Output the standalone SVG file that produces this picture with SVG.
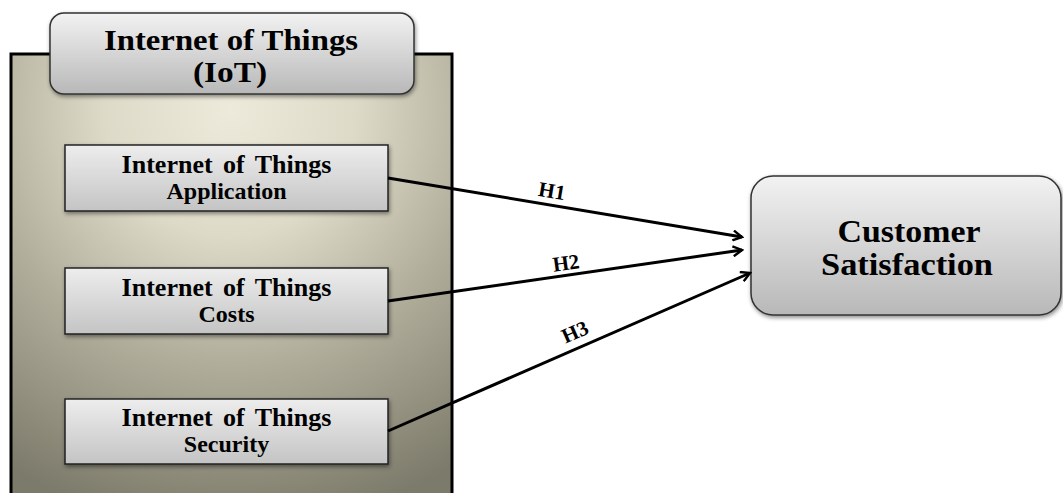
<svg xmlns="http://www.w3.org/2000/svg" width="1063" height="493" viewBox="0 0 1063 493">
<defs>
<radialGradient id="bg" cx="230" cy="110" r="420" gradientUnits="userSpaceOnUse">
<stop offset="0" stop-color="#eeeadb"/>
<stop offset="0.3" stop-color="#dedac8"/>
<stop offset="0.6" stop-color="#b2ae9c"/>
<stop offset="1" stop-color="#7c7a6a"/>
</radialGradient>
<linearGradient id="gb" x1="0" y1="0" x2="0" y2="1">
<stop offset="0" stop-color="#ededed"/>
<stop offset="1" stop-color="#c4c4c4"/>
</linearGradient>
<linearGradient id="gt" x1="0" y1="0" x2="0" y2="1">
<stop offset="0" stop-color="#f2f2f2"/>
<stop offset="1" stop-color="#b8b8b8"/>
</linearGradient>
<filter id="sh" x="-10%" y="-10%" width="120%" height="130%">
<feDropShadow dx="1" dy="2" stdDeviation="2" flood-color="#000" flood-opacity="0.45"/>
</filter>
<marker id="ah" viewBox="0 0 12 12" refX="10" refY="6" markerWidth="12" markerHeight="12" markerUnits="userSpaceOnUse" orient="auto">
<path d="M1,1 L10,6 L1,11" fill="none" stroke="#000" stroke-width="2.4"/>
</marker>
<style>
.t{font-family:"Liberation Serif","Times New Roman",serif;font-weight:bold;fill:#000;text-anchor:middle}
.box{fill:url(#gb);stroke:#222;stroke-width:1.5}
.rbox{fill:url(#gt);stroke:#333;stroke-width:1.5}
.c{stroke:#000;stroke-width:3;fill:none;marker-end:url(#ah)}
</style>
</defs>
<rect width="1063" height="493" fill="#fff"/>
<g id="container">
<rect x="11" y="54" width="441" height="460" fill="url(#bg)" stroke="#000" stroke-width="3"/>
</g>
<g id="title">
<rect class="rbox" x="50" y="13" width="364" height="81" rx="14" filter="url(#sh)"/>
<text class="t" x="231" y="50" font-size="29" textLength="254" lengthAdjust="spacingAndGlyphs">Internet of Things</text>
<text class="t" x="230" y="82" font-size="29" textLength="74" lengthAdjust="spacingAndGlyphs">(IoT)</text>
</g>
<g id="n1">
<rect class="box" x="65" y="145" width="323" height="66" filter="url(#sh)"/>
<text class="t" x="226.5" y="173" font-size="26" word-spacing="4">Internet of Things</text>
<text class="t" x="226.5" y="199" font-size="24">Application</text>
</g>
<g id="n2">
<rect class="box" x="65" y="268" width="323" height="66" filter="url(#sh)"/>
<text class="t" x="226.5" y="296" font-size="26" word-spacing="4">Internet of Things</text>
<text class="t" x="226.5" y="322" font-size="24">Costs</text>
</g>
<g id="n3">
<rect class="box" x="65" y="399" width="323" height="65" filter="url(#sh)"/>
<text class="t" x="226.5" y="426" font-size="26" word-spacing="4">Internet of Things</text>
<text class="t" x="226.5" y="452" font-size="24">Security</text>
</g>
<g id="cs">
<rect class="rbox" x="751" y="176" width="310" height="139" rx="22" filter="url(#sh)"/>
<text class="t" x="909" y="242" font-size="31" textLength="143" lengthAdjust="spacingAndGlyphs">Customer</text>
<text class="t" x="907" y="275" font-size="31" textLength="172" lengthAdjust="spacingAndGlyphs">Satisfaction</text>
</g>
<g id="connectors">
<line class="c" x1="388" y1="178" x2="742" y2="237"/>
<line class="c" x1="388" y1="301" x2="742" y2="250"/>
<line class="c" x1="388" y1="431" x2="750" y2="273"/>
<text class="t" x="552" y="198" font-size="21" transform="rotate(9.5 552 191)">H1</text>
<text class="t" x="566" y="270" font-size="21" transform="rotate(-8 566 263)">H2</text>
<text class="t" x="575" y="339" font-size="21" transform="rotate(-24 575 332)">H3</text>
</g>
</svg>
